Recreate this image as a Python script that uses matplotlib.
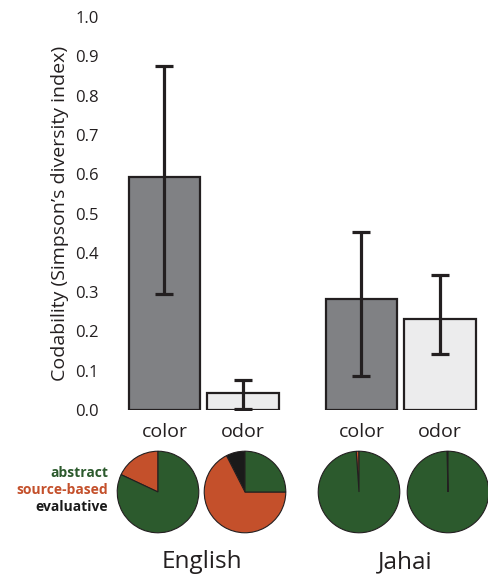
import matplotlib
matplotlib.use('Agg')
import matplotlib.pyplot as plt

# Données
languages = ["English", "Jahai"]
conditions = ["color", "odor"]
codability = [0.594, 0.042, 0.283, 0.232]
err_low = [0.294, 0.003, 0.087, 0.143]
err_high = [0.875, 0.076, 0.453, 0.344]
# parts des réponses: evaluative, source-based, abstract
pie_labels = ["evaluative", "source-based", "abstract"]
pie_shares = [
    [0.0, 0.18, 0.82],
    [0.075, 0.675, 0.25],
    [0.0, 0.011, 0.989],
    [0.0, 0.004, 0.996],
]

W, H = 489, 577
BAR_COLORS = ["#808184", "#ececed", "#808184", "#ececed"]
PIE_COLORS = ["#1a1a1a", "#c4502b", "#2c5a2d"]
EDGE = "#231f20"

plt.rcParams['font.family'] = ['Open Sans', 'DejaVu Sans']

fig = plt.figure(figsize=(W / 100, H / 100), dpi=100)


def px_axes(x0, y0, x1, y1):
    """Axes placés en pixels (origine en haut à gauche)."""
    return fig.add_axes([x0 / W, 1 - y1 / H, (x1 - x0) / W, (y1 - y0) / H])


# Positions des barres: unité = 78.5 px, centre de la 1re barre à 164.5 px
unit = 78.5
x0_px = 164.5
xpos = [0, 1, 197 / unit, 197 / unit + 1]

ax = px_axes(100, 17, 485, 410)
ax.set_xlim((100 - x0_px) / unit, (485 - x0_px) / unit)
ax.set_ylim(0, 1.0)
yerr = [[c - lo for c, lo in zip(codability, err_low)],
        [hi - c for c, hi in zip(codability, err_high)]]
ax.bar(xpos, codability, width=0.91, color=BAR_COLORS, edgecolor=EDGE,
       linewidth=1.6, zorder=2)
ax.errorbar(xpos, codability, yerr=yerr, fmt='none', ecolor=EDGE,
            elinewidth=2.3, capsize=6.5, capthick=2.3, zorder=3)

for s in ax.spines.values():
    s.set_visible(False)
ax.set_yticks([i / 10 for i in range(11)])
ax.set_yticklabels([f"{i / 10:.1f}" for i in range(11)], fontsize=12, color=EDGE)
ax.set_xticks(xpos)
ax.set_xticklabels(conditions * 2, fontsize=14, color=EDGE)
ax.tick_params(axis='y', length=0, pad=1)
ax.tick_params(axis='x', length=0, pad=9.5)
ax.set_ylabel("Codability (Simpson\u2019s diversity index)", fontsize=14,
              color=EDGE, labelpad=4)

# Camemberts
pie_centers = [158, 245, 359, 448]
r = 41
for cx, shares in zip(pie_centers, pie_shares):
    pax = px_axes(cx - r - 1, 492 - r - 1, cx + r + 1, 492 + r + 1)
    pax.pie(shares, colors=PIE_COLORS, startangle=90, counterclock=True,
            radius=1.0, wedgeprops=dict(edgecolor=EDGE, linewidth=0.8))
    pax.set_xlim(-1.03, 1.03)
    pax.set_ylim(-1.03, 1.03)
    pax.set_aspect('equal')
    pax.axis('off')

# Légende colorée
for lbl, col, y in zip(["abstract", "source-based", "evaluative"],
                       [PIE_COLORS[2], PIE_COLORS[1], PIE_COLORS[0]],
                       [473, 490, 507]):
    fig.text(108 / W, 1 - y / H, lbl, color=col, fontsize=10, fontweight='bold',
             ha='right', va='center')

# Langues
for lang, cx in zip(languages, [202, 405]):
    fig.text(cx / W, 1 - 562 / H, lang, fontsize=17.5, color=EDGE,
             ha='center', va='center')

fig.savefig("out.png", dpi=100)
